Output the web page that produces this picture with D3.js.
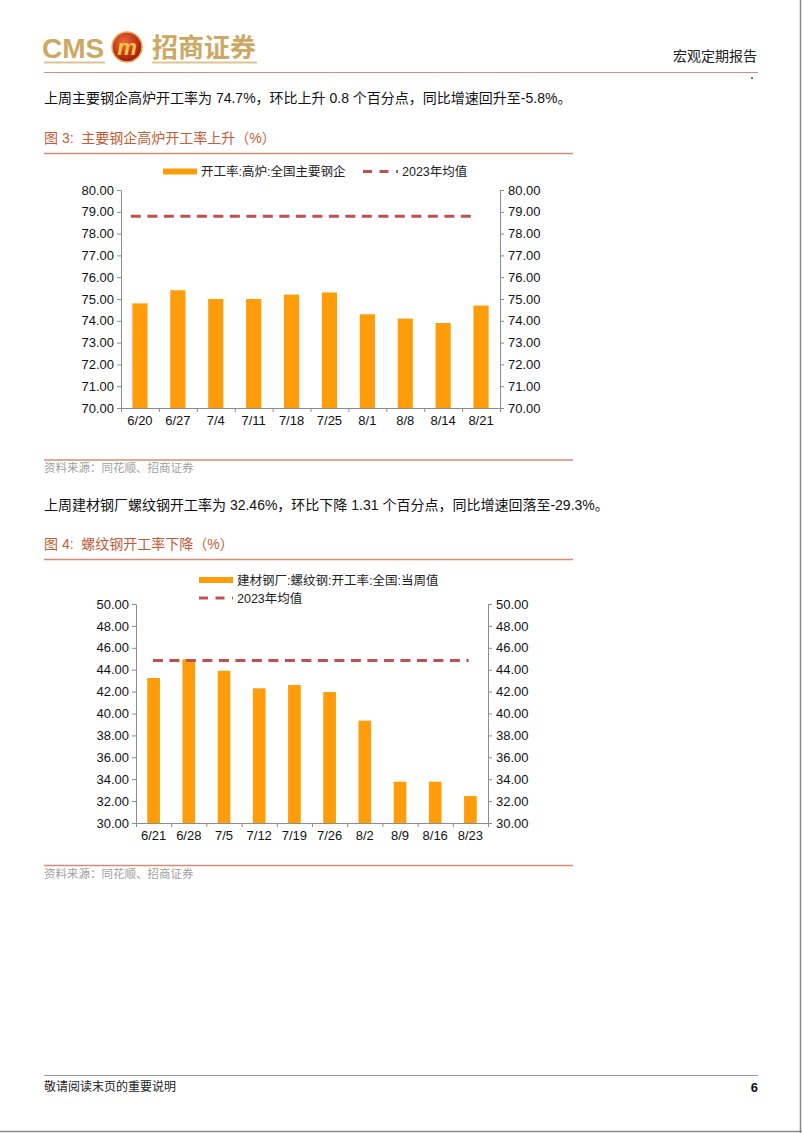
<!DOCTYPE html>
<html>
<head>
<meta charset="utf-8">
<script src="https://cdn.jsdelivr.net/npm/d3@7"></script>
<style>
  body { margin: 0; background: #fff; }
  svg text { font-family: "Liberation Sans", Arial, "Noto Sans CJK SC", sans-serif; }
  .cn { font-family: "Noto Sans CJK SC", sans-serif; }
  .mix { font-family: "Liberation Sans", Arial, "Noto Sans CJK SC", sans-serif; }
  .axis path, .axis line { stroke: #8c8c8c; }
  .axis text { fill: #111; }
</style>
</head>
<body>
<svg id="page" width="802" height="1133"></svg>
<script>
// ---- data ----
const dates1 = ["6/20", "6/27", "7/4", "7/11", "7/18", "7/25", "8/1", "8/8", "8/14", "8/21"];
const furnaceRate = [74.8, 75.4, 75.0, 75.0, 75.2, 75.3, 74.3, 74.1, 73.9, 74.7];
const furnaceAvg2023 = 78.8;
const yTicks1 = [70, 71, 72, 73, 74, 75, 76, 77, 78, 79, 80];

const dates2 = ["6/21", "6/28", "7/5", "7/12", "7/19", "7/26", "8/2", "8/9", "8/16", "8/23"];
const rebarRate = [43.24, 44.95, 43.9, 42.3, 42.6, 41.96, 39.34, 33.77, 33.77, 32.46];
const rebarAvg2023 = 44.85;
const yTicks2 = [30, 32, 34, 36, 38, 40, 42, 44, 46, 48, 50];

const barColor = "#ff9c0a";
const avgColor = "#c0504d";
const titleColor = "#c45c36";
const ruleColor = "#d98a72";

const svg = d3.select("#page");

// page frame (right and bottom edges)
svg.append("line").attr("x1", 800.5).attr("x2", 800.5).attr("y1", 0).attr("y2", 1133)
  .attr("stroke", "#8a8a8a").attr("stroke-width", 1.5);
svg.append("line").attr("x1", 0).attr("x2", 802).attr("y1", 1131.5).attr("y2", 1131.5)
  .attr("stroke", "#8a8a8a").attr("stroke-width", 1.5);

// ---- header / logo ----
const gold = "#cda862";
svg.append("text").attr("x", 42).attr("y", 58).text("CMS")
  .attr("font-size", 28).attr("font-weight", "bold").attr("fill", gold);
svg.append("line").attr("x1", 44).attr("x2", 105).attr("y1", 62.5).attr("y2", 62.5)
  .attr("stroke", "#dcc594").attr("stroke-width", 2);

const grad = svg.append("defs").append("radialGradient").attr("id", "logoGrad")
  .attr("cx", "40%").attr("cy", "35%").attr("r", "65%");
grad.append("stop").attr("offset", "0%").attr("stop-color", "#f06a3a");
grad.append("stop").attr("offset", "100%").attr("stop-color", "#a3190e");
svg.append("circle").attr("cx", 127).attr("cy", 47).attr("r", 15)
  .attr("fill", "url(#logoGrad)").attr("stroke", "#e3b45a").attr("stroke-width", 1.5);
svg.append("text").attr("x", 127).attr("y", 55).attr("text-anchor", "middle")
  .attr("font-size", 22).attr("font-weight", "bold").attr("font-style", "italic")
  .attr("fill", "#f5c542").text("m");

svg.append("text").attr("class", "cn").attr("x", 152).attr("y", 57).text("招商证券")
  .attr("font-size", 26).attr("font-weight", "bold").attr("fill", gold);
svg.append("line").attr("x1", 152).attr("x2", 257).attr("y1", 62.5).attr("y2", 62.5)
  .attr("stroke", "#dcc594").attr("stroke-width", 2);

svg.append("text").attr("class", "cn").attr("x", 757).attr("y", 61).attr("text-anchor", "end")
  .attr("font-size", 14).attr("fill", "#222").text("宏观定期报告");
svg.append("line").attr("x1", 44).attr("x2", 758).attr("y1", 72.5).attr("y2", 72.5)
  .attr("stroke", "#e0887a").attr("stroke-width", 1.2);
svg.append("circle").attr("cx", 752).attr("cy", 78).attr("r", 0.9).attr("fill", "#333");

// ---- text blocks ----
function para(y, str) {
  svg.append("text").attr("class", "mix").attr("x", 44).attr("y", y)
    .attr("font-size", 14).attr("fill", "#111").text(str);
}
function figTitle(y, str) {
  svg.append("text").attr("class", "mix").attr("x", 44).attr("y", y)
    .attr("font-size", 14).attr("fill", titleColor).text(str);
  svg.append("line").attr("x1", 44).attr("x2", 573).attr("y1", y + 10.5).attr("y2", y + 10.5)
    .attr("stroke", ruleColor).attr("stroke-width", 1.5);
}
function source(y) {
  svg.append("line").attr("x1", 44).attr("x2", 573).attr("y1", y).attr("y2", y)
    .attr("stroke", ruleColor).attr("stroke-width", 1.5);
  svg.append("text").attr("class", "cn").attr("x", 44).attr("y", y + 12)
    .attr("font-size", 11.5).attr("fill", "#a0a0a0").text("资料来源：同花顺、招商证券");
}

para(103, "上周主要钢企高炉开工率为 74.7%，环比上升 0.8 个百分点，同比增速回升至-5.8%。");
figTitle(143, "图 3:\u00a0\u00a0主要钢企高炉开工率上升（%）");
source(460);
para(510, "上周建材钢厂螺纹钢开工率为 32.46%，环比下降 1.31 个百分点，同比增速回落至-29.3%。");
figTitle(549, "图 4:\u00a0\u00a0螺纹钢开工率下降（%）");
source(865.5);

// footer
svg.append("line").attr("x1", 44).attr("x2", 758).attr("y1", 1075.5).attr("y2", 1075.5)
  .attr("stroke", "#9a9a9a").attr("stroke-width", 1);
svg.append("text").attr("class", "cn").attr("x", 44).attr("y", 1091)
  .attr("font-size", 12).attr("fill", "#222").text("敬请阅读末页的重要说明");
svg.append("text").attr("x", 758).attr("y", 1092).attr("text-anchor", "end")
  .attr("font-size", 13).attr("font-weight", "bold").attr("fill", "#111").text("6");

// ---- charts ----
function drawChart(c) {
  const g = svg.append("g");
  const x = d3.scaleBand().domain(c.cats).range([c.left, c.right]).padding(0);
  const y = d3.scaleLinear().domain(c.domain).range([c.bottom, c.top]);
  const fmt = d3.format(".2f");

  // bars
  const bw = x.bandwidth() * c.barFrac;
  g.selectAll(".bar").data(c.values).enter().append("rect")
    .attr("class", "bar")
    .attr("x", (d, i) => x(c.cats[i]) + (x.bandwidth() - bw) / 2)
    .attr("width", bw)
    .attr("y", d => y(d))
    .attr("height", d => c.bottom - y(d))
    .attr("fill", barColor);

  // 2023 average (dashed)
  const first = c.cats[0], last = c.cats[c.cats.length - 1];
  g.append("line")
    .attr("x1", x(first) + x.bandwidth() * c.avgFrom)
    .attr("x2", x(last) + x.bandwidth() * c.avgTo)
    .attr("y1", y(c.avg)).attr("y2", y(c.avg))
    .attr("stroke", avgColor).attr("stroke-width", 3).attr("stroke-dasharray", "10,6.5");

  // axes
  const left = g.append("g").attr("class", "axis").attr("transform", `translate(${c.left},0)`)
    .call(d3.axisLeft(y).tickValues(c.ticks).tickFormat(fmt).tickSize(4).tickSizeOuter(0).tickPadding(3));
  const right = g.append("g").attr("class", "axis").attr("transform", `translate(${c.right},0)`)
    .call(d3.axisRight(y).tickValues(c.ticks).tickFormat(fmt).tickSize(4).tickSizeOuter(0).tickPadding(4));
  [left, right].forEach(a => a.selectAll("text").attr("font-size", 13)
    .attr("font-family", "'Liberation Sans', Arial, sans-serif"));

  // bottom: tick marks at band boundaries, labels at band centres
  const bx = d3.scaleLinear().domain([0, c.cats.length]).range([c.left, c.right]);
  g.append("g").attr("class", "axis").attr("transform", `translate(0,${c.bottom})`)
    .call(d3.axisBottom(bx).ticks(c.cats.length).tickFormat("").tickSize(4).tickSizeOuter(0));
  const lab = g.append("g").attr("class", "axis").attr("transform", `translate(0,${c.bottom})`)
    .call(d3.axisBottom(x).tickSize(0).tickPadding(8));
  lab.select(".domain").remove();
  lab.selectAll("text").attr("font-size", 13)
    .attr("font-family", "'Liberation Sans', Arial, sans-serif");

  // legend
  c.legend.forEach(item => {
    if (item.type === "bar") {
      g.append("rect").attr("x", item.x).attr("y", item.y - 3).attr("width", item.w).attr("height", 6)
        .attr("fill", barColor);
    } else {
      g.append("line").attr("x1", item.x).attr("x2", item.x + item.w)
        .attr("y1", item.y).attr("y2", item.y)
        .attr("stroke", avgColor).attr("stroke-width", 3).attr("stroke-dasharray", "9,7.5");
    }
    g.append("text").attr("class", "mix").attr("x", item.x + item.w + 4).attr("y", item.y + 4.5)
      .attr("font-size", 12.5).attr("fill", "#222").text(item.label);
  });
}

drawChart({
  cats: dates1, values: furnaceRate, avg: furnaceAvg2023, ticks: yTicks1,
  domain: [70, 80], left: 121, right: 500, top: 190, bottom: 408,
  barFrac: 0.4, avgFrom: 0.26, avgTo: 0.38,
  legend: [
    { type: "bar", x: 163, y: 171.5, w: 34, label: "开工率:高炉:全国主要钢企" },
    { type: "line", x: 363, y: 171.5, w: 35, label: "2023年均值" }
  ]
});

drawChart({
  cats: dates2, values: rebarRate, avg: rebarAvg2023, ticks: yTicks2,
  domain: [30, 50], left: 136, right: 488, top: 604, bottom: 823,
  barFrac: 0.36, avgFrom: 0.48, avgTo: 0.45,
  legend: [
    { type: "bar", x: 199, y: 580, w: 34, label: "建材钢厂:螺纹钢:开工率:全国:当周值" },
    { type: "line", x: 199, y: 598, w: 34, label: "2023年均值" }
  ]
});
</script>
</body>
</html>
